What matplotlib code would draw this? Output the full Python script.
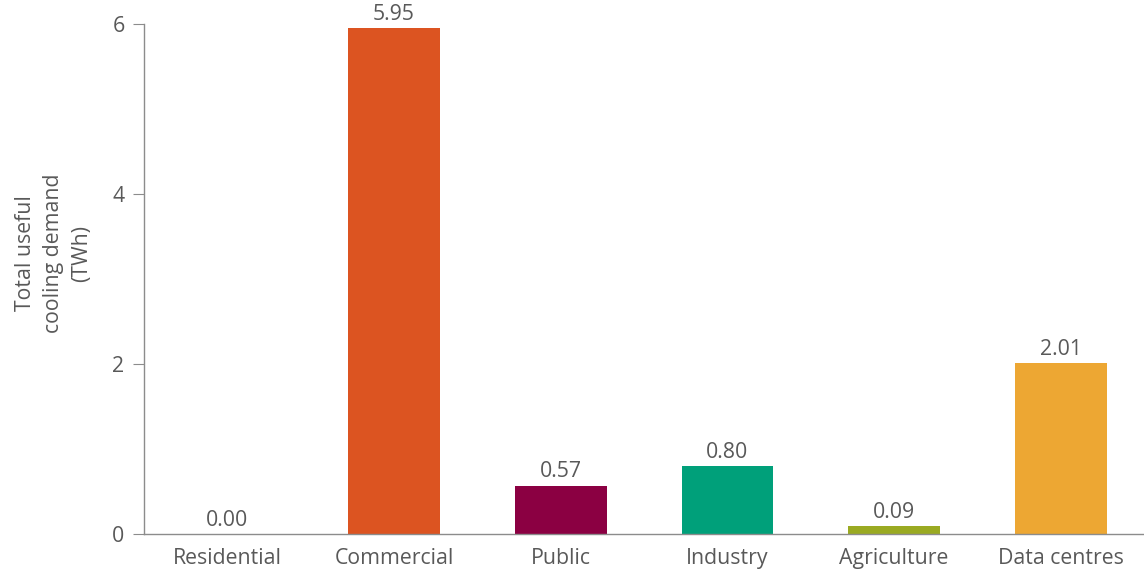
import matplotlib.pyplot as plt

plt.rcParams['font.family'] = ['Open Sans', 'DejaVu Sans']

# Cooling demand by sector (TWh)
sectors = ["Residential", "Commercial", "Public", "Industry", "Agriculture", "Data centres"]
demand = [0.00, 5.95, 0.57, 0.80, 0.09, 2.01]
colors = ["#DC5421", "#DC5421", "#8B0042", "#00A07A", "#9AAA22", "#EDA733"]

text_color = "#595959"
axis_color = "#8C8C8C"
fs = 15.3

fig = plt.figure(figsize=(11.44, 5.72), dpi=100)
ax = fig.add_axes([0.1259, 0.0664, 0.8741, 0.8916])

x = range(len(sectors))
bars = ax.bar(x, demand, width=0.55, color=colors)

for xi, val in zip(x, demand):
    ax.text(xi, val + 0.04, f"{val:.2f}", ha="center", va="bottom",
            fontsize=fs, color=text_color)

ax.set_xlim(-0.5, len(sectors) - 0.5)
ax.set_ylim(0, 6)
ax.set_yticks([0, 2, 4, 6])
ax.set_xticks(list(x))
ax.set_xticklabels(sectors)

for side in ["top", "right"]:
    ax.spines[side].set_visible(False)
for side in ["left", "bottom"]:
    ax.spines[side].set_color(axis_color)
    ax.spines[side].set_linewidth(1.0)

ax.tick_params(axis="y", length=8, color=axis_color, labelsize=fs,
               labelcolor=text_color, pad=6)
ax.tick_params(axis="x", length=0, labelsize=fs, labelcolor=text_color, pad=10)

ax.set_ylabel("Total useful\ncooling demand\n(TWh)", fontsize=fs,
              color=text_color, linespacing=1.45)
ax.yaxis.set_label_coords(-0.052, 0.55)

fig.savefig("out.png", dpi=100)
